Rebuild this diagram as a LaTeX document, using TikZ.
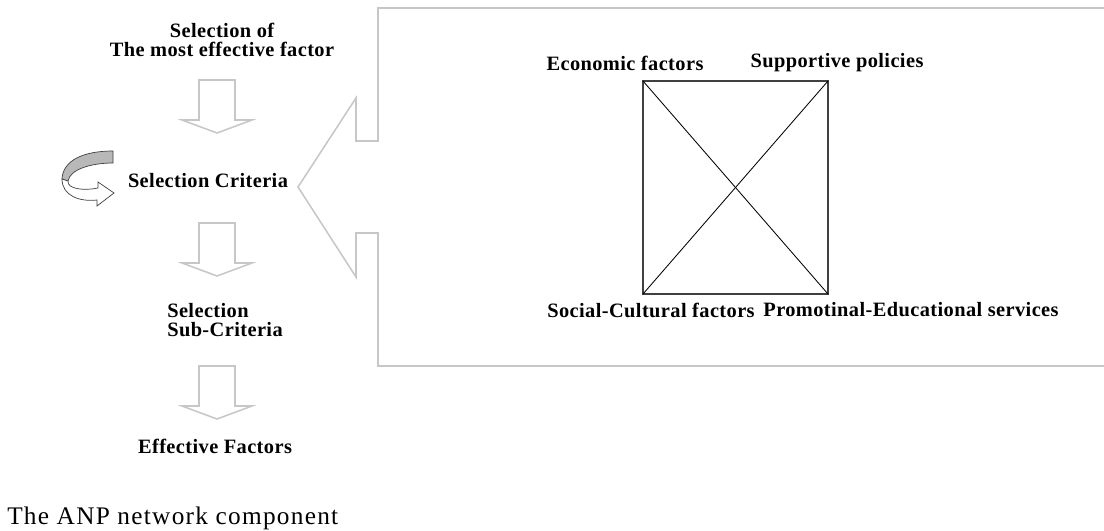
\documentclass[tikz,border=0pt]{standalone}
\usepackage{fontspec}
\setmainfont{Liberation Serif}
\usepackage{tikz}
\usetikzlibrary{positioning}

\tikzset{
    lbl/.style={font=\fontsize{14.5}{13.5}\selectfont\bfseries\addfontfeatures{LetterSpace=2}, inner sep=0pt},
    grayline/.style={draw=black!22, line width=1.1pt, line join=miter},
    dnarrow/.pic={\draw[grayline] (-18,0) -- (18,0) -- (18,40) -- (35,40) -- (0,53) -- (-35,40) -- (-18,40) -- cycle;}
}

\begin{document}
\begin{tikzpicture}[x=0.025cm, y=-0.025cm]
    \useasboundingbox (0,0) rectangle (1104,531);
    % left column
    \node[lbl, align=center] at (222,40) (sel) {Selection of\\The most effective factor};
    \node[lbl] at (208,181) (crit) {Selection Criteria};
    \node[lbl, align=left, anchor=west] at (167,320) (sub) {Selection\\Sub-Criteria};
    \node[lbl] at (215,446) (eff) {Effective Factors};
    \pic at (217,80) {dnarrow};
    \pic at (217,223) {dnarrow};
    \pic at (217,366) {dnarrow};
    % curved arrow
    \filldraw[fill=black!28, draw=black!75, line width=0.5pt] (113,151) .. controls (84,151) and (63,160) .. (62,179) -- (68,181) .. controls (70,169) and (92,163) .. (113,163) -- cycle;
    \filldraw[fill=white, draw=black!75, line width=0.5pt] (62,179) .. controls (62,196) and (80,202) .. (97,200) -- (97,206) -- (114,193) -- (98,182) -- (98,188) .. controls (84,191) and (67,189) .. (68,181) -- cycle;
    % big box with arrow
    \draw[grayline] (1104,8) -- (378,8) -- (378,141) -- (356,141) -- (356,98) -- (298,187) -- (356,277) -- (356,233) -- (378,233) -- (378,366) -- (1104,366);
    % network
    \coordinate (ec) at (643,81);
    \coordinate (sp) at (828,81);
    \coordinate (sc) at (643,294);
    \coordinate (pe) at (828,294);
    \draw[black!75, line width=1.4pt] (ec) rectangle (pe);
    \draw[line width=0.6pt] (ec) -- (pe);
    \draw[line width=0.6pt] (sp) -- (sc);
    \node[lbl] at (625,63) (econ) {Economic factors};
    \node[lbl] at (837,63) (supp) {Supportive policies};
    \node[lbl] at (651,310) (soc) {Social-Cultural factors};
    \node[lbl] at (911,310) (prom) {Promotinal-Educational services};
    % caption
    \node[font=\fontsize{18}{18}\selectfont\addfontfeatures{LetterSpace=5}, anchor=west, inner sep=0pt] at (7,518) (cap) {The ANP network component};
\end{tikzpicture}
\end{document}
